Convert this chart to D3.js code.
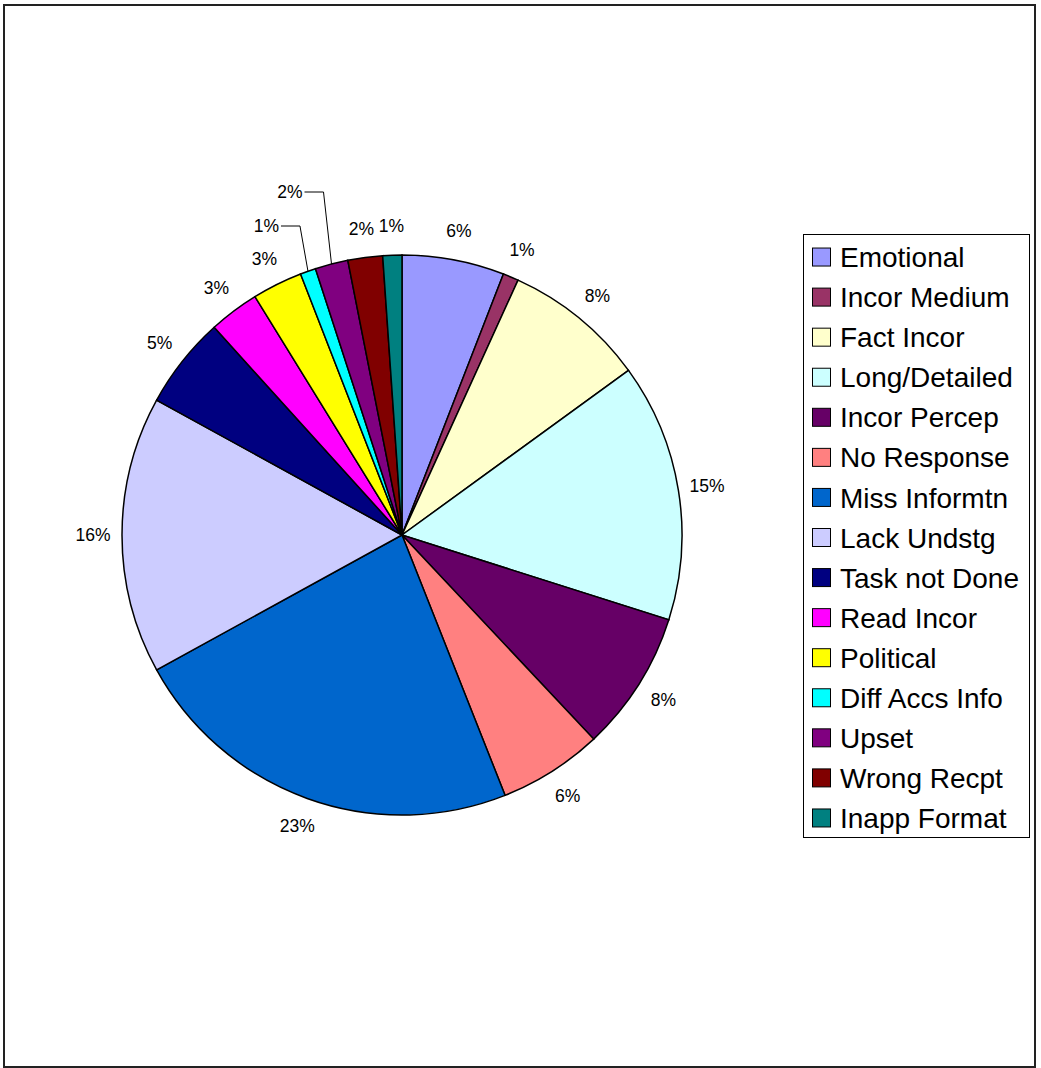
<!DOCTYPE html>
<meta charset="utf-8">
<head>
    <title>Pie chart</title>
</head>
<style>
	body {
	  margin: 0;
	  background: #fff;
	}
	svg text {
	  font-family: Arial, "Liberation Sans", Helvetica, sans-serif;
	  fill: #000;
	}
	.slice {
	  stroke: #000;
	  stroke-width: 1.5px;
	}
	.pct {
	  font-size: 17.5px;
	}
	.legend text {
	  font-size: 28px;
	}
</style>
<body>
<script src="https://d3js.org/d3.v7.min.js"></script>

<script>
// categories in the order they go round the pie (clockwise from 12 o'clock)
var categories = ["Emotional", "Incor Medium", "Fact Incor", "Long/Detailed", "Incor Percep",
    "No Response", "Miss Informtn", "Lack Undstg", "Task not Done", "Read Incor",
    "Political", "Diff Accs Info", "Upset", "Wrong Recpt", "Inapp Format"];

// share of each category (percent)
var values = [5.9, 0.9, 8.2, 14.9, 8.1, 6.0, 23.0, 16.0, 5.3, 2.9, 2.9, 0.9, 1.9, 2.0, 1.1];

var colors = ["#9999FF", "#993366", "#FFFFCC", "#CCFFFF", "#660066", "#FF8080", "#0066CC",
    "#CCCCFF", "#000080", "#FF00FF", "#FFFF00", "#00FFFF", "#800080", "#800000", "#008080"];

// slices whose label sits up on a leader line
var leaders = ["Diff Accs Info", "Upset"];

var width = 1041, height = 1068;
var cx = 402, cy = 535, radius = 280;

var data = categories.map(function(c, i) { return {name: c, value: values[i], color: colors[i]}; });
var total = d3.sum(values);

var svg = d3.select("body").append("svg")
    .attr("width", width)
    .attr("height", height);

// outer frame
svg.append("rect")
    .attr("x", 4).attr("y", 5)
    .attr("width", 1031).attr("height", 1062)
    .attr("fill", "#fff")
    .attr("stroke", "#222")
    .attr("stroke-width", 2);

var pie = d3.pie().sort(null).value(function(d) { return d.value; });
var arc = d3.arc().innerRadius(0).outerRadius(radius);
var arcs = pie(data);

var g = svg.append("g")
    .attr("transform", "translate(" + cx + "," + cy + ")");

g.selectAll(".slice")
    .data(arcs)
  .enter().append("path")
    .attr("class", "slice")
    .attr("d", arc)
    .attr("fill", function(d) { return d.data.color; });

// percentage labels
var labelR = radius + 29;
function midAngle(d) { return (d.startAngle + d.endAngle) / 2; }

arcs.forEach(function(d) {
  var a = midAngle(d);
  var pct = Math.round(d.data.value / total * 100) + "%";
  var li = leaders.indexOf(d.data.name);
  if (li < 0) {
    g.append("text")
        .attr("class", "pct")
        .attr("x", labelR * Math.sin(a))
        .attr("y", -labelR * Math.cos(a))
        .attr("dy", "0.35em")
        .attr("text-anchor", "middle")
        .text(pct);
  } else {
    // leader line: up from the rim, then across to the label
    var ex = radius * Math.sin(a), ey = -radius * Math.cos(a);
    var ly = -radius - 29 - li * 34;
    var lx = ex - 8;
    var tx = ex - 27;
    g.append("polyline")
        .attr("points", [[ex, ey], [lx, ly], [tx, ly]].map(function(p) { return p.join(","); }).join(" "))
        .attr("fill", "none")
        .attr("stroke", "#000")
        .attr("stroke-width", 1);
    g.append("text")
        .attr("class", "pct")
        .attr("x", tx - 2)
        .attr("y", ly)
        .attr("dy", "0.35em")
        .attr("text-anchor", "end")
        .text(pct);
  }
});

// legend
var legend = svg.append("g").attr("class", "legend");
legend.append("rect")
    .attr("x", 803.5).attr("y", 234.5)
    .attr("width", 226).attr("height", 603)
    .attr("fill", "#fff")
    .attr("stroke", "#000")
    .attr("stroke-width", 1);

var ly = d3.scaleBand().domain(categories).range([237, 838]);

var item = legend.selectAll(".item")
    .data(data)
  .enter().append("g")
    .attr("class", "item")
    .attr("transform", function(d) { return "translate(0," + (ly(d.name) + ly.bandwidth() / 2) + ")"; });

item.append("rect")
    .attr("x", 812.5).attr("y", -9)
    .attr("width", 18).attr("height", 18)
    .attr("fill", function(d) { return d.color; })
    .attr("stroke", "#000")
    .attr("stroke-width", 1);

item.append("text")
    .attr("x", 840)
    .attr("y", 0)
    .attr("dy", "0.36em")
    .text(function(d) { return d.name; });
</script>
</body>
